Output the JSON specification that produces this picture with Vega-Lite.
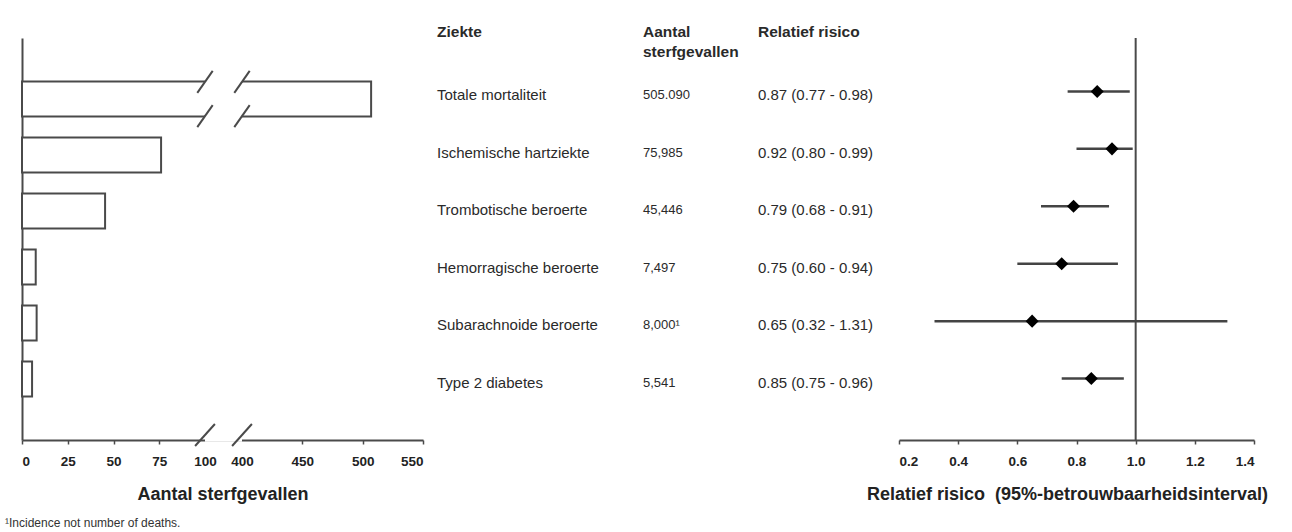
{
  "$schema": "https://vega.github.io/schema/vega-lite/v6.json",
  "autosize": {"type": "pad"},
  "padding": {"left": 5, "top": 25, "right": 0, "bottom": 0},
  "background": "white",
  "bounds": "flush",
  "spacing": 13,
  "config": {
    "view": {"stroke": null},
    "font": "Liberation Sans",
    "axis": {
      "grid": false,
      "domainColor": "#4a4a4a",
      "domainWidth": 2,
      "tickColor": "#4a4a4a",
      "tickWidth": 1.5,
      "tickSize": 4,
      "labelFont": "Liberation Sans",
      "labelFontSize": 13.5,
      "labelFontWeight": "bold",
      "labelColor": "#222",
      "labelPadding": 10,
      "titleFont": "Liberation Sans",
      "titleFontSize": 18,
      "titleFontWeight": "bold",
      "titleColor": "#222",
      "titlePadding": 18
    }
  },
  "datasets": {
    "rows": [
      {"ziekte": "Totale mortaliteit", "rij": 1, "sterfte": 507, "aantal": "505.090", "rr": 0.87, "lo": 0.77, "hi": 0.98, "rrtekst": "0.87 (0.77 - 0.98)"},
      {"ziekte": "Ischemische hartziekte", "rij": 2, "sterfte": 76.0, "aantal": "75,985", "rr": 0.92, "lo": 0.80, "hi": 0.99, "rrtekst": "0.92 (0.80 - 0.99)"},
      {"ziekte": "Trombotische beroerte", "rij": 3, "sterfte": 45.4, "aantal": "45,446", "rr": 0.79, "lo": 0.68, "hi": 0.91, "rrtekst": "0.79 (0.68 - 0.91)"},
      {"ziekte": "Hemorragische beroerte", "rij": 4, "sterfte": 7.5, "aantal": "7,497", "rr": 0.75, "lo": 0.60, "hi": 0.94, "rrtekst": "0.75 (0.60 - 0.94)"},
      {"ziekte": "Subarachnoide beroerte", "rij": 5, "sterfte": 8.0, "aantal": "8,000¹", "rr": 0.65, "lo": 0.32, "hi": 1.31, "rrtekst": "0.65 (0.32 - 1.31)"},
      {"ziekte": "Type 2 diabetes", "rij": 6, "sterfte": 5.5, "aantal": "5,541", "rr": 0.85, "lo": 0.75, "hi": 0.96, "rrtekst": "0.85 (0.75 - 0.96)"}
    ],
    "breuken": [{"breuk": 100}, {"breuk": 400}]
  },
  "hconcat": [
    {
      "width": 401,
      "height": 402,
      "title": {"text": "¹Incidence not number of deaths.", "orient": "bottom", "anchor": "start", "frame": "group", "fontSize": 12, "fontWeight": "normal", "color": "#333", "dx": -17, "offset": 14},
      "layer": [
        {
          "data": {"name": "rows"},
          "mark": {"type": "bar", "orient": "horizontal", "height": 35, "fill": "white", "stroke": "#4a4a4a", "strokeWidth": 2},
          "encoding": {
            "x": {
              "field": "sterfte", "type": "quantitative",
              "scale": {"domain": [0, 100, 400, 550], "range": [0, 183, 220, 401], "nice": false, "zero": false},
              "axis": {
                "values": [0, 25, 50, 75, 100, 400, 450, 500, 550],
                "title": "Aantal sterfgevallen",
                "labelOverlap": false,
                "tickOpacity": {"condition": {"test": "datum.value == 100 || datum.value == 400", "value": 0}, "value": 1}
              }
            },
            "y": {
              "field": "rij", "type": "quantitative",
              "scale": {"domain": [0, 7], "reverse": true, "nice": false, "zero": false},
              "axis": {"labels": false, "ticks": false, "title": null}
            }
          }
        },
        {
          "data": {"values": [{}]},
          "mark": {"type": "rect", "fill": "white"},
          "encoding": {"x": {"datum": 100}, "x2": {"datum": 400}, "y": {"datum": 0.65}, "y2": {"datum": 1.35}}
        },
        {
          "data": {"values": [{}]},
          "mark": {"type": "rect", "fill": "white"},
          "encoding": {"x": {"datum": 100}, "x2": {"datum": 400}, "y": {"datum": 6.9}, "y2": {"datum": 7.12}}
        },
        {
          "data": {"name": "breuken"},
          "mark": {"type": "point", "shape": "M-0.7,1L0.7,-1", "size": 484, "stroke": "#4a4a4a", "strokeWidth": 2, "filled": false, "opacity": 1},
          "encoding": {"x": {"field": "breuk", "type": "quantitative"}, "y": {"datum": 0.695}}
        },
        {
          "data": {"name": "breuken"},
          "mark": {"type": "point", "shape": "M-0.7,1L0.7,-1", "size": 484, "stroke": "#4a4a4a", "strokeWidth": 2, "filled": false, "opacity": 1},
          "encoding": {"x": {"field": "breuk", "type": "quantitative"}, "y": {"datum": 1.305}}
        },
        {
          "data": {"name": "breuken"},
          "mark": {"type": "point", "shape": "M-0.9,1L0.9,-1", "size": 484, "stroke": "#4a4a4a", "strokeWidth": 2, "filled": false, "opacity": 1},
          "encoding": {"x": {"field": "breuk", "type": "quantitative"}, "y": {"datum": 7}}
        }
      ]
    },
    {
      "width": 450,
      "height": 402,
      "layer": [
        {
          "data": {"name": "rows"},
          "mark": {"type": "text", "align": "left", "baseline": "middle", "fontSize": 15, "color": "#2a2a2a"},
          "encoding": {
            "x": {"datum": 1, "type": "quantitative", "scale": {"domain": [0, 450], "nice": false, "zero": false}, "axis": null},
            "y": {"field": "rij", "type": "quantitative", "scale": {"domain": [0, 7], "reverse": true, "nice": false, "zero": false}, "axis": null},
            "text": {"field": "ziekte"}
          }
        },
        {
          "data": {"name": "rows"},
          "mark": {"type": "text", "align": "left", "baseline": "middle", "fontSize": 13, "color": "#2a2a2a"},
          "encoding": {"x": {"datum": 207, "type": "quantitative"}, "y": {"field": "rij", "type": "quantitative"}, "text": {"field": "aantal"}}
        },
        {
          "data": {"name": "rows"},
          "mark": {"type": "text", "align": "left", "baseline": "middle", "fontSize": 15, "color": "#2a2a2a"},
          "encoding": {"x": {"datum": 322, "type": "quantitative"}, "y": {"field": "rij", "type": "quantitative"}, "text": {"field": "rrtekst"}}
        },
        {
          "data": {"values": [{}]},
          "mark": {"type": "text", "align": "left", "baseline": "middle", "fontSize": 15.5, "fontWeight": "bold", "color": "#2a2a2a", "text": "Ziekte"},
          "encoding": {"x": {"datum": 1, "type": "quantitative"}, "y": {"datum": -0.1, "type": "quantitative"}}
        },
        {
          "data": {"values": [{}]},
          "mark": {"type": "text", "align": "left", "baseline": "top", "fontSize": 15.5, "fontWeight": "bold", "color": "#2a2a2a", "lineHeight": 20, "text": ["Aantal", "sterfgevallen"]},
          "encoding": {"x": {"datum": 207, "type": "quantitative"}, "y": {"datum": -0.226, "type": "quantitative"}}
        },
        {
          "data": {"values": [{}]},
          "mark": {"type": "text", "align": "left", "baseline": "middle", "fontSize": 15.5, "fontWeight": "bold", "color": "#2a2a2a", "text": "Relatief risico"},
          "encoding": {"x": {"datum": 322, "type": "quantitative"}, "y": {"datum": -0.1, "type": "quantitative"}}
        }
      ]
    },
    {
      "width": 355,
      "height": 402,
      "layer": [
        {
          "data": {"values": [{}]},
          "mark": {"type": "rule", "color": "#4a4a4a", "strokeWidth": 2},
          "encoding": {
            "x": {"datum": 1.0, "type": "quantitative", "scale": {"domain": [0.2, 1.4], "nice": false, "zero": false},
              "axis": {"values": [0.2, 0.4, 0.6, 0.8, 1.0, 1.2, 1.4], "format": ".1f", "title": "Relatief risico \u00a0(95%-betrouwbaarheidsinterval)", "labelOverlap": false, "titleX": 168}}
          }
        },
        {
          "data": {"name": "rows"},
          "mark": {"type": "rule", "color": "#444", "strokeWidth": 2.5, "yOffset": -4},
          "encoding": {
            "x": {"field": "lo", "type": "quantitative"},
            "x2": {"field": "hi"},
            "y": {"field": "rij", "type": "quantitative", "scale": {"domain": [0, 7], "reverse": true, "nice": false, "zero": false}, "axis": null}
          }
        },
        {
          "data": {"name": "rows"},
          "mark": {"type": "point", "shape": "diamond", "filled": true, "color": "black", "size": 170, "opacity": 1, "yOffset": -4},
          "encoding": {
            "x": {"field": "rr", "type": "quantitative"},
            "y": {"field": "rij", "type": "quantitative"}
          }
        }
      ]
    }
  ]
}
